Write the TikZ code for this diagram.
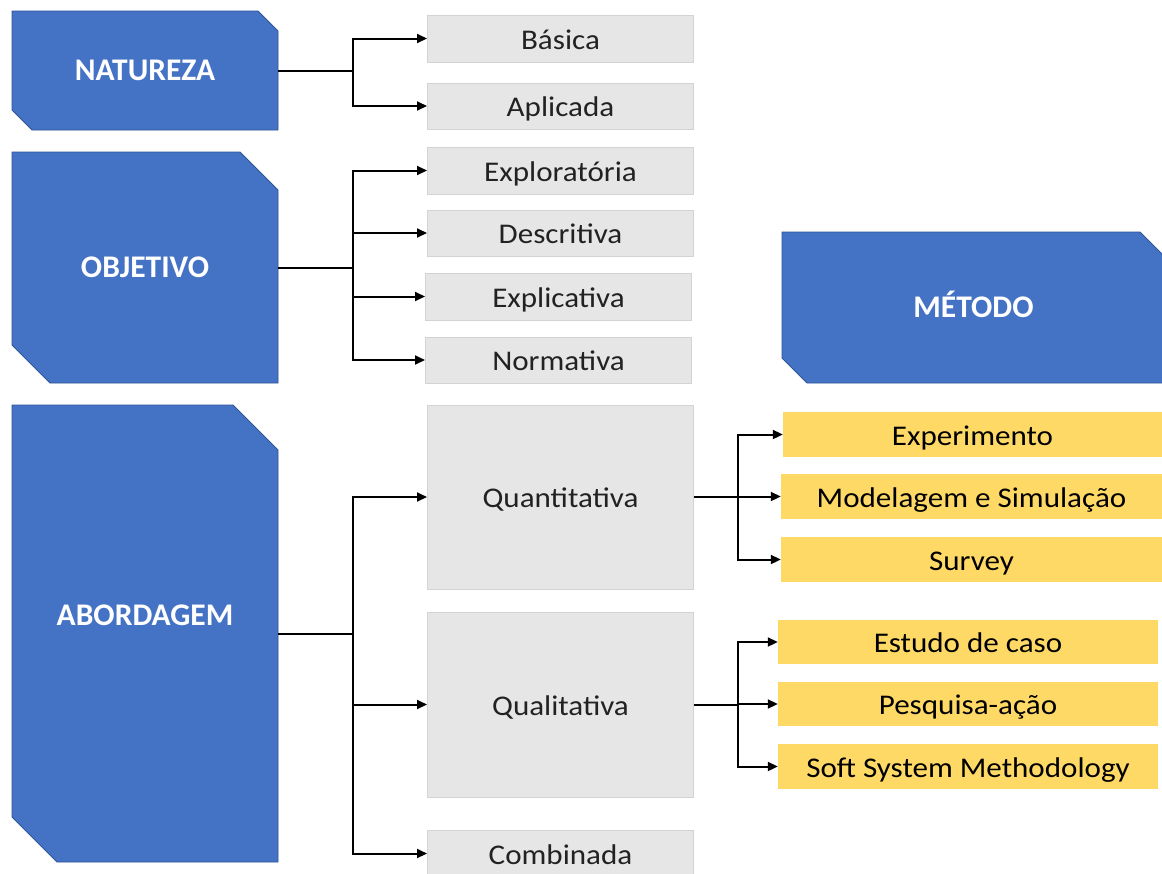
\documentclass[tikz,border=0pt]{standalone}
\usepackage{fontspec}
\setmainfont{Carlito}
\newfontfamily\boxfont{Carlito}[FakeStretch=1.09]
\usetikzlibrary{arrows.meta,calc}
\definecolor{mblue}{HTML}{4472C4}
\definecolor{mbluedk}{HTML}{2F5597}
\definecolor{mgray}{HTML}{E7E6E6}
\definecolor{mgraydk}{HTML}{D3D3D3}
\definecolor{myellow}{HTML}{FFD966}
\definecolor{mtext}{HTML}{222222}
\tikzset{
  conn/.style={line width=2pt, black},
  arr/.style={conn, -{Triangle[length=10pt,width=9pt]}},
  graybox/.style={draw=mgraydk, fill=mgray, line width=1pt, inner sep=0pt,
    text height=21pt, text depth=0pt, text=mtext,
    font=\boxfont\fontsize{28.5}{30}\selectfont},
  yellowbox/.style={fill=myellow, inner sep=0pt,
    text height=21pt, text depth=0pt, text=black,
    font=\boxfont\fontsize{28.5}{30}\selectfont},
  bluelbl/.style={inner sep=0pt, text=white,
    font=\bfseries\fontsize{31.5}{34}\selectfont, text height=20pt, text depth=0pt},
  snipfill/.style={fill=mblue, draw=mbluedk, line width=0.8pt},
}
% #1 options, #2 name, #3 x1, #4 y1, #5 x2, #6 y2, #7 cut, #8 text
\newcommand\mysnip[8][]{%
  \path[snipfill] (#3,#4) -- (#5-#7,#4) -- (#5,#4+#7) -- (#5,#6) -- (#3+#7,#6) -- (#3,#6-#7) -- cycle;
  \node[bluelbl, minimum width=#5-#3, minimum height=#6-#4, #1] (#2) at ({(#3+#5)/2},{(#4+#6)/2}) {#8};
}
\begin{document}
\begin{tikzpicture}[x=1pt,y=-1pt]
\useasboundingbox (0,0) rectangle (1162,873);
\begin{scope}
\clip (0,0) rectangle (1162,873);
\fill[white] (0,0) rectangle (1162,873);

% blue headers
\mysnip{nat}{12}{11}{278}{130}{20}{NATUREZA}
\mysnip{obj}{12}{152}{278}{383}{38}{OBJETIVO}
\mysnip[text depth=37pt]{abo}{12}{405}{278}{862}{45}{ABORDAGEM}
\mysnip{met}{782}{232}{1165}{383}{25}{MÉTODO}

% gray boxes
\node[graybox, minimum width=266, minimum height=47] (bas) at (560.5,38.5) {Básica};
\node[graybox, minimum width=266, minimum height=46] (apl) at (560.5,106) {Aplicada};
\node[graybox, minimum width=266, minimum height=47] (exp) at (560.5,170.5) {Exploratória};
\node[graybox, minimum width=266, minimum height=46] (des) at (560.5,233) {Descritiva};
\node[graybox, minimum width=266, minimum height=47] (expl) at (558.5,296.5) {Explicativa};
\node[graybox, minimum width=266, minimum height=46] (nor) at (558.5,360) {Normativa};
\node[graybox, minimum width=266, minimum height=184] (qnt) at (560.5,497) {Quantitativa};
\node[graybox, minimum width=266, minimum height=185] (qlt) at (560.5,704.5) {Qualitativa};
\node[graybox, minimum width=266, minimum height=47] (com) at (560.5,853.5) {Combinada};

% yellow boxes
\node[yellowbox, minimum width=379, minimum height=45] (y1) at (972.5,434.5) {Experimento};
\node[yellowbox, minimum width=381, minimum height=45] (y2) at (971.5,496.5) {Modelagem e Simulação};
\node[yellowbox, minimum width=381, minimum height=45] (y3) at (971.5,559.5) {Survey};
\node[yellowbox, minimum width=380, minimum height=44] (y4) at (968,642) {Estudo de caso};
\node[yellowbox, minimum width=380, minimum height=44] (y5) at (968,704) {Pesquisa-ação};
\node[yellowbox, minimum width=380, minimum height=45] (y6) at (968,766.5) {Soft System Methodology};

% connectors
\coordinate (j1) at ($(nat.east)+(75,0)$);
\draw[conn] (nat.east) -- (j1);
\draw[arr] (j1) |- (bas.west);
\draw[arr] (j1) |- (apl.west);

\coordinate (j2) at ($(obj.east)+(75,0)$);
\draw[conn] (obj.east) -- (j2);
\draw[arr] (j2) |- (exp.west);
\draw[arr] (j2) |- (des.west);
\draw[arr] (j2) |- (expl.west);
\draw[arr] (j2) |- (nor.west);

\coordinate (j3) at ($(abo.east)+(75,0)$);
\draw[conn] (abo.east) -- (j3);
\draw[arr] (j3) |- (qnt.west);
\draw[arr] (j3) |- (qlt.west);
\draw[arr] (j3) |- (com.west);

\coordinate (j4) at ($(qnt.east)+(44,0)$);
\draw[conn] (qnt.east) -- (j4);
\draw[arr] (j4) |- (y1.west);
\draw[arr] (j4) |- (y2.west);
\draw[arr] (j4) |- (y3.west);

\coordinate (j5) at ($(qlt.east)+(44,0)$);
\draw[conn] (qlt.east) -- (j5);
\draw[arr] (j5) |- (y4.west);
\draw[arr] (j5) |- (y5.west);
\draw[arr] (j5) |- (y6.west);
\end{scope}
\end{tikzpicture}
\end{document}
